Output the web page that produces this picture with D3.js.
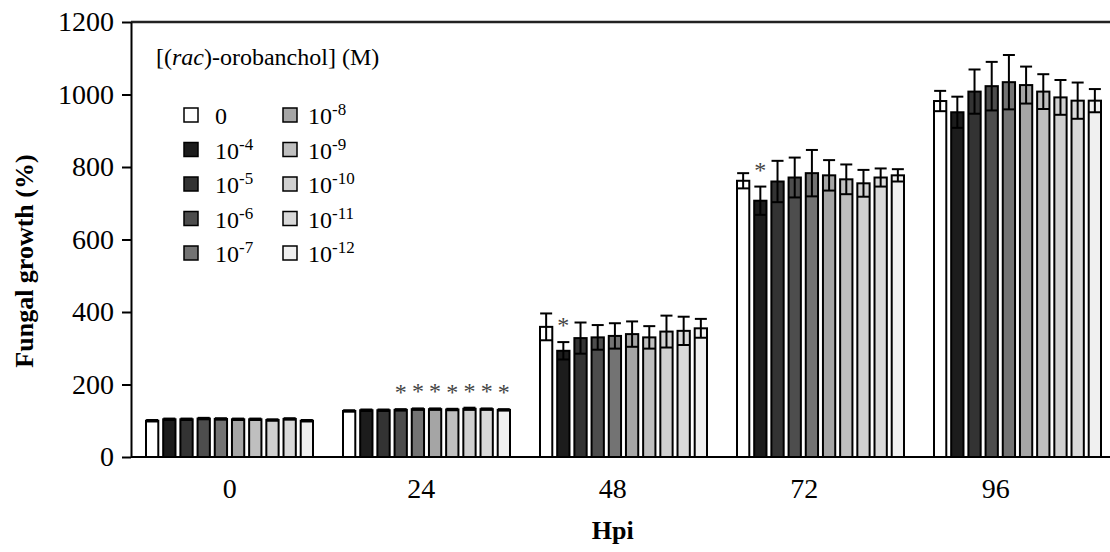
<!DOCTYPE html>
<html>
<head>
<meta charset="utf-8">
<script src="https://cdn.jsdelivr.net/npm/d3@7"></script>
<style>
  html, body { margin: 0; padding: 0; background: #fff; }
  svg { display: block; }
  text { font-family: "Liberation Serif", "Times New Roman", serif; fill: #000; }
</style>
</head>
<body>
<script>
// Time points (hours post inoculation)
const timePoints = ['0', '24', '48', '72', '96'];

// Concentrations of (rac)-orobanchol: null = control, otherwise 10^exponent M
const exponents = [null, -4, -5, -6, -7, -8, -9, -10, -11, -12];

// Mean fungal growth (%) for each concentration, per time point
const growth0h  = [100, 104, 104, 106, 105, 104, 104, 102, 105, 100];
const growth24h = [127, 129, 129, 130, 132, 132, 131, 133, 132, 130];
const growth48h = [359, 293, 328, 330, 334, 339, 330, 346, 348, 355];
const growth72h = [762, 707, 760, 771, 783, 777, 766, 755, 771, 777];
const growth96h = [982, 951, 1008, 1023, 1034, 1026, 1008, 992, 983, 983];

// Standard errors
const err0h  = [2, 2, 2, 2, 2, 2, 2, 2, 2, 2];
const err24h = [2, 2, 2, 2, 2, 2, 2, 3, 2, 2];
const err48h = [37, 24, 43, 34, 35, 35, 31, 44, 39, 26];
const err72h = [21, 39, 57, 55, 64, 42, 41, 37, 25, 17];
const err96h = [28, 43, 61, 67, 75, 51, 48, 48, 50, 32];

// Significant difference from control (*)
const sig0h  = [0, 0, 0, 0, 0, 0, 0, 0, 0, 0];
const sig24h = [0, 0, 0, 1, 1, 1, 1, 1, 1, 1];
const sig48h = [0, 1, 0, 0, 0, 0, 0, 0, 0, 0];
const sig72h = [0, 1, 0, 0, 0, 0, 0, 0, 0, 0];
const sig96h = [0, 0, 0, 0, 0, 0, 0, 0, 0, 0];

const yTicks = [0, 200, 400, 600, 800, 1000, 1200];

const fills = ['#ffffff', '#1c1c1c', '#333333', '#4d4d4d', '#737373',
               '#a5a5a5', '#bfbfbf', '#d0d0d0', '#d9d9d9', '#f0f0f0'];

const growth = [growth0h, growth24h, growth48h, growth72h, growth96h];
const errs = [err0h, err24h, err48h, err72h, err96h];
const sigs = [sig0h, sig24h, sig48h, sig72h, sig96h];

const rows = [];
timePoints.forEach((t, gi) => {
  exponents.forEach((e, si) => {
    rows.push({ t, si, v: growth[gi][si], e: errs[gi][si], sig: sigs[gi][si] });
  });
});

const W = 1110, H = 552;
const FONT = 24, TICKFONT = 28, TITLEFONT = 26;
const svg = d3.select('body').append('svg').attr('width', W).attr('height', H);

const y = d3.scaleLinear().domain([0, 1200]).range([457, 22]);
const x0 = d3.scaleBand().domain(timePoints).range([131, 131 + 5 * 197]);
const x1 = d3.scaleBand().domain(d3.range(exponents.length))
  .range([15, 182]).paddingInner(0.285);
// category label positions along the x axis
const xLab = d3.scaleBand().domain(timePoints).range([134, 134 + 5 * 191.5]);

// Plot frame top edge
svg.append('line')
  .attr('x1', 131).attr('x2', W)
  .attr('y1', y(1200)).attr('y2', y(1200))
  .attr('stroke', '#222').attr('stroke-width', 2.5);

// Bars
svg.append('g').selectAll('rect').data(rows).join('rect')
  .attr('x', d => x0(d.t) + x1(d.si))
  .attr('y', d => y(d.v))
  .attr('width', x1.bandwidth())
  .attr('height', d => y(0) - y(d.v))
  .attr('fill', d => fills[d.si])
  .attr('stroke', '#000')
  .attr('stroke-width', 2);

// Error bars
const eb = svg.append('g').attr('stroke', '#000').attr('stroke-width', 2);
const cap = 6;
rows.forEach(d => {
  const cx = x0(d.t) + x1(d.si) + x1.bandwidth() / 2;
  const yt = y(d.v + d.e), yb = y(d.v - d.e);
  eb.append('line').attr('x1', cx).attr('x2', cx).attr('y1', yt).attr('y2', yb);
  eb.append('line').attr('x1', cx - cap).attr('x2', cx + cap).attr('y1', yt).attr('y2', yt);
  eb.append('line').attr('x1', cx - cap).attr('x2', cx + cap).attr('y1', yb).attr('y2', yb);
});

// Significance markers
svg.append('g').selectAll('text').data(rows.filter(d => d.sig)).join('text')
  .attr('x', d => x0(d.t) + x1(d.si) + x1.bandwidth() / 2)
  .attr('y', d => y(d.v + d.e) - 9)
  .attr('text-anchor', 'middle')
  .attr('font-size', 24)
  .style('fill', '#444')
  .text('*');

// Y axis
const yAxis = svg.append('g').attr('transform', 'translate(131,0)')
  .call(d3.axisLeft(y).tickValues(yTicks).tickFormat(d3.format('d'))
    .tickSize(9).tickSizeOuter(0).tickPadding(8));
yAxis.select('.domain').attr('stroke', '#000').attr('stroke-width', 2);
yAxis.selectAll('.tick line').attr('stroke', '#000').attr('stroke-width', 2);
yAxis.selectAll('text').attr('font-size', TICKFONT).attr('font-family', null);

// X axis line (runs to the right edge)
svg.append('line')
  .attr('x1', 131).attr('x2', W).attr('y1', y(0)).attr('y2', y(0))
  .attr('stroke', '#000').attr('stroke-width', 2);
const xAxis = svg.append('g').attr('transform', `translate(0,${y(0)})`)
  .call(d3.axisBottom(xLab).tickSize(0).tickSizeOuter(0).tickPadding(21));
xAxis.select('.domain').remove();
xAxis.selectAll('text').attr('font-size', TICKFONT).attr('font-family', null);

// Axis titles
svg.append('text')
  .attr('x', xLab('48') + xLab.bandwidth() / 2).attr('y', 539)
  .attr('text-anchor', 'middle').attr('font-size', TITLEFONT).attr('font-weight', 'bold')
  .text('Hpi');
svg.append('text')
  .attr('transform', `translate(33,261) rotate(-90)`)
  .attr('text-anchor', 'middle').attr('font-size', TITLEFONT).attr('font-weight', 'bold')
  .text('Fungal growth (%)');

// Legend
const lg = svg.append('g');
const title = lg.append('text').attr('x', 156).attr('y', 65).attr('font-size', FONT);
title.append('tspan').text('[(');
title.append('tspan').attr('font-style', 'italic').text('rac');
title.append('tspan').text(')-orobanchol] (M)');

const colX = [184, 283];
const textX = [215, 308];
const rowY = d3.scalePoint().domain(d3.range(5)).range([115, 253]);
exponents.forEach((e, i) => {
  const col = Math.floor(i / 5), r = i % 5;
  const cy = rowY(r);
  lg.append('rect')
    .attr('x', colX[col]).attr('y', cy - 7)
    .attr('width', 14).attr('height', 14)
    .attr('fill', fills[i]).attr('stroke', '#000').attr('stroke-width', 1.5);
  const t = lg.append('text').attr('x', textX[col]).attr('y', cy + 9).attr('font-size', FONT);
  if (e === null) {
    t.text('0');
  } else {
    t.append('tspan').text('10');
    t.append('tspan').attr('font-size', 17).attr('dy', -9).text(String(e));
  }
});
</script>
</body>
</html>
